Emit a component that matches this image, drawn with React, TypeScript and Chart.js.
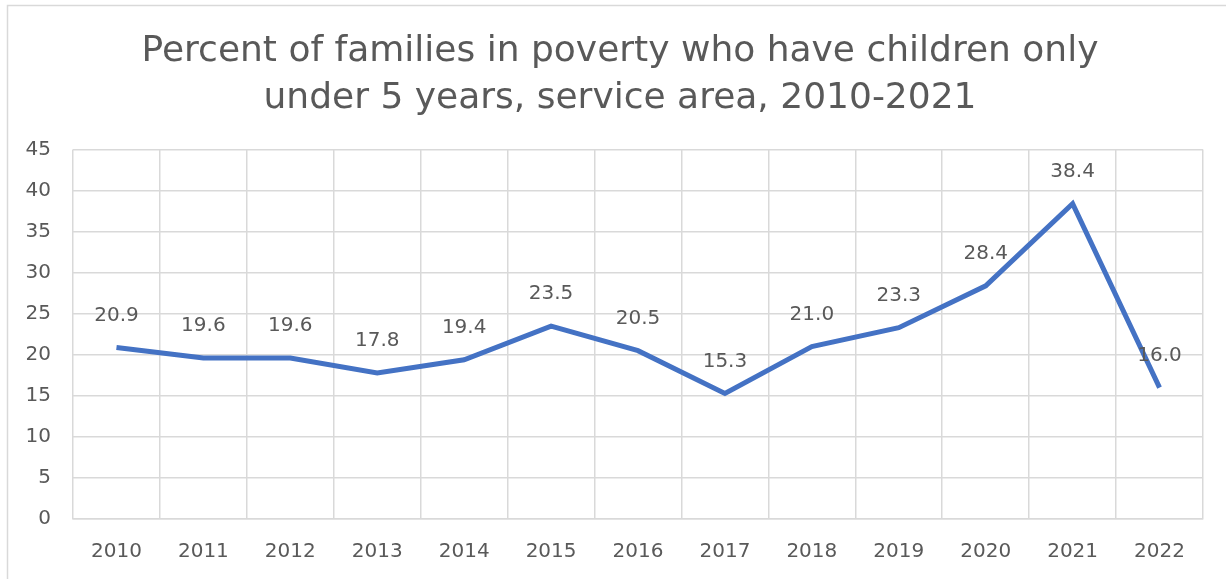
import React, { useEffect, useRef } from "react";
import { Chart, registerables } from "chart.js";

Chart.register(...registerables);

const years = ["2010","2011","2012","2013","2014","2015","2016","2017","2018","2019","2020","2021","2022"];
const percentValues = [20.9, 19.6, 19.6, 17.8, 19.4, 23.5, 20.5, 15.3, 21.0, 23.3, 28.4, 38.4, 16.0];
const titleLines = ["Percent of families in poverty who have children only", "under 5 years, service area, 2010-2021"];

const FONT = "'DejaVu Sans', sans-serif";
const TEXT = "#595959";
const GRID = "#d9d9d9";

const frame = {
  id: "frame",
  beforeDraw(chart: any) {
    const ctx = chart.ctx;
    ctx.save();
    ctx.fillStyle = "#ffffff";
    ctx.fillRect(0, 0, chart.width, chart.height);
    ctx.strokeStyle = GRID;
    ctx.lineWidth = 1.5;
    ctx.beginPath();
    ctx.moveTo(7.5, chart.height + 2);
    ctx.lineTo(7.5, 5.5);
    ctx.lineTo(chart.width + 2, 5.5);
    ctx.stroke();
    ctx.restore();
  },
};

const valueLabels = {
  id: "valueLabels",
  afterDatasetsDraw(chart: any) {
    const ctx = chart.ctx;
    const meta = chart.getDatasetMeta(0);
    const data = chart.data.datasets[0].data;
    ctx.save();
    ctx.font = `20px ${FONT}`;
    ctx.fillStyle = TEXT;
    ctx.textAlign = "center";
    ctx.textBaseline = "middle";
    meta.data.forEach((pt: any, i: number) => {
      ctx.fillText(Number(data[i]).toFixed(1), pt.x, pt.y - 32);
    });
    ctx.restore();
  },
};

export default function App() {
  const ref = useRef<HTMLCanvasElement>(null);
  useEffect(() => {
    if (!ref.current) return;
    const chart = new Chart(ref.current, {
      type: "line",
      data: {
        labels: years,
        datasets: [
          {
            data: percentValues,
            borderColor: "#4472C4",
            borderWidth: 5,
            pointRadius: 0,
            tension: 0,
            fill: false,
          },
        ],
      },
      options: {
        animation: false,
        responsive: true,
        maintainAspectRatio: false,
        layout: { padding: { top: 12, right: 0, bottom: 0, left: 14 } },
        plugins: {
          legend: { display: false },
          tooltip: { enabled: false },
          title: {
            display: true,
            text: titleLines,
            color: TEXT,
            font: { family: FONT, size: 36, weight: "normal", lineHeight: 1.3 },
            padding: { top: 16, bottom: 28 },
          },
        },
        scales: {
          x: {
            offset: true,
            grid: { color: GRID, lineWidth: 1.5, offset: true, drawTicks: false },
            border: { color: GRID, width: 1.5 },
            ticks: { color: TEXT, font: { family: FONT, size: 20 }, padding: 21, maxRotation: 0 },
            afterFit(scale: any) { scale.height = 60; },
          },
          y: {
            min: 0,
            max: 45,
            ticks: { stepSize: 5, color: TEXT, font: { family: FONT, size: 20 }, padding: 22 },
            grid: { color: GRID, lineWidth: 1.5, drawTicks: false },
            border: { display: false },
            afterFit(scale: any) { scale.width = 59; },
          },
          yRight: {
            position: "right",
            min: 0,
            max: 45,
            grid: { display: false, drawTicks: false },
            border: { display: false },
            ticks: { display: false },
            afterFit(scale: any) { scale.width = 23; },
          },
        },
      },
      plugins: [frame, valueLabels],
    });
    return () => chart.destroy();
  }, []);
  return (
    <div style={{ position: "fixed", left: 0, top: 0, width: 1226, height: 579 }}>
      <canvas ref={ref} />
    </div>
  );
}
